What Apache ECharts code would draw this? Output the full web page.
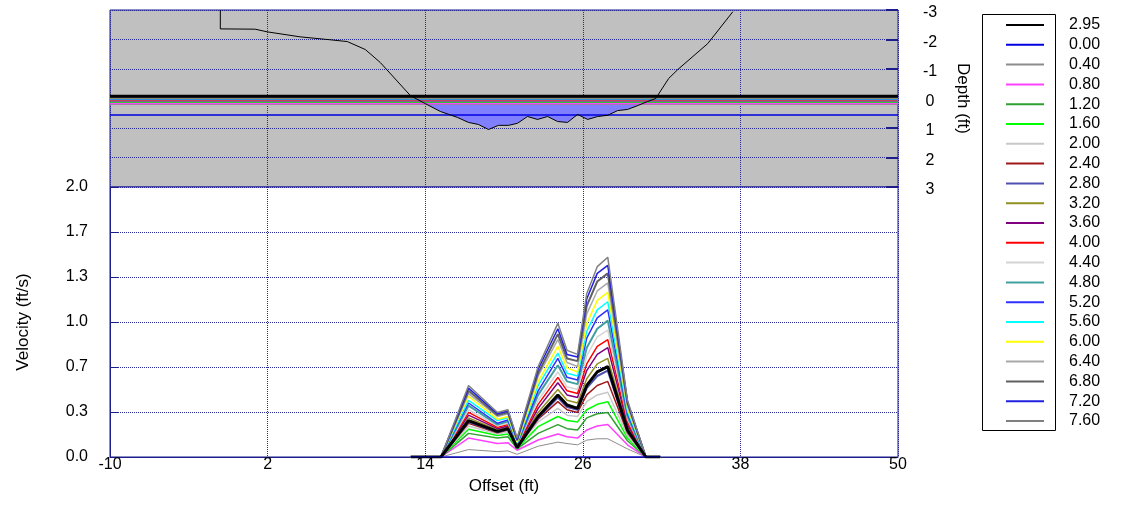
<!DOCTYPE html>
<html><head><meta charset="utf-8">
<script src="https://cdn.jsdelivr.net/npm/echarts@6/dist/echarts.min.js"></script>
<style>html,body{margin:0;padding:0;background:#fff}#c{width:1121px;height:527px}</style>
</head><body><div id="c"></div>
<script>
// ---- data ----
const offsets = [12.9, 15.2, 17.3, 19.5, 20.3, 21.0, 22.6, 24.1, 24.8, 25.6, 26.3, 27.1, 27.9, 29.4, 30.8, 31.9];

const v_2_95 = [0,0,0.27,0.19,0.21,0.07,0.30,0.46,0.385,0.36,0.53,0.63,0.67,0.20,0,0];
const v_0_00 = [0,0,0,0,0,0,0,0,0,0,0,0,0,0,0,0];
const v_0_40 = [0,0,0.055,0.04,0.045,0.02,0.08,0.11,0.10,0.09,0.125,0.135,0.135,0.06,0,0];
const v_0_80 = [0,0,0.14,0.10,0.105,0.05,0.126,0.17,0.15,0.14,0.20,0.23,0.24,0.09,0,0];
const v_1_20 = [0,0,0.175,0.14,0.15,0.06,0.175,0.24,0.21,0.20,0.29,0.32,0.33,0.12,0,0];
const v_1_60 = [0,0,0.205,0.16,0.17,0.065,0.225,0.30,0.27,0.26,0.35,0.39,0.41,0.14,0,0];
const v_2_00 = [0,0,0.23,0.17,0.185,0.07,0.26,0.36,0.31,0.30,0.41,0.46,0.48,0.16,0,0];
const v_2_40 = [0,0,0.25,0.18,0.20,0.07,0.28,0.41,0.35,0.33,0.46,0.53,0.56,0.18,0,0];
const v_2_80 = [0,0,0.26,0.185,0.205,0.07,0.29,0.44,0.37,0.35,0.51,0.60,0.64,0.19,0,0];
const v_3_20 = [0,0,0.29,0.20,0.22,0.075,0.33,0.50,0.42,0.40,0.58,0.69,0.73,0.22,0,0];
const v_3_60 = [0,0,0.31,0.21,0.23,0.08,0.36,0.55,0.46,0.44,0.64,0.76,0.81,0.24,0,0];
const v_4_00 = [0,0,0.33,0.22,0.24,0.085,0.39,0.59,0.49,0.47,0.69,0.82,0.87,0.26,0,0];
const v_4_40 = [0,0,0.35,0.23,0.25,0.09,0.42,0.63,0.52,0.50,0.75,0.89,0.94,0.28,0,0];
const v_4_80 = [0,0,0.38,0.24,0.265,0.095,0.46,0.68,0.56,0.54,0.81,0.95,1.01,0.30,0,0];
const v_5_20 = [0,0,0.40,0.25,0.275,0.10,0.49,0.73,0.59,0.57,0.88,1.03,1.09,0.32,0,0];
const v_5_60 = [0,0,0.42,0.27,0.29,0.105,0.53,0.77,0.62,0.60,0.93,1.09,1.15,0.34,0,0];
const v_6_00 = [0,0,0.45,0.28,0.30,0.11,0.56,0.82,0.66,0.63,0.99,1.16,1.22,0.36,0,0];
const v_6_40 = [0,0,0.47,0.30,0.32,0.12,0.60,0.87,0.70,0.67,1.06,1.23,1.29,0.38,0,0];
const v_6_80 = [0,0,0.49,0.31,0.33,0.125,0.62,0.91,0.73,0.71,1.12,1.30,1.36,0.40,0,0];
const v_7_20 = [0,0,0.51,0.32,0.34,0.13,0.65,0.95,0.76,0.74,1.17,1.36,1.42,0.41,0,0];
const v_7_60 = [0,0,0.53,0.33,0.35,0.14,0.67,0.99,0.79,0.76,1.21,1.41,1.48,0.42,0,0];

const seriesNames = ['2.95','0.00','0.40','0.80','1.20','1.60','2.00','2.40','2.80','3.20','3.60','4.00','4.40','4.80','5.20','5.60','6.00','6.40','6.80','7.20','7.60'];
const seriesValues = [v_2_95,v_0_00,v_0_40,v_0_80,v_1_20,v_1_60,v_2_00,v_2_40,v_2_80,v_3_20,v_3_60,v_4_00,v_4_40,v_4_80,v_5_20,v_5_60,v_6_00,v_6_40,v_6_80,v_7_20,v_7_60];
const seriesColors = ['#000000','#0000e0','#8c8c8c','#ff40ff','#30a030','#00ff00','#c8c8c8','#a01818','#5050b0','#909020','#800080','#ff0000','#d4d4d4','#40a0a0','#3030ff','#00ffff','#ffff00','#a8a8a8','#606060','#2020e0','#808080'];
const seriesWidths = [3,1,1,1.5,1.5,1.5,1.5,1.5,2,1.5,1.5,1.5,1.5,2,1.5,1.5,1.5,1.5,2,1.5,1.5];
// water surface depth for each series (top panel)
const waterDepths = [-0.08,0.56,0.20,0.17,0.12,0.11,0.09,0.08,0.07,0.06,0.05,0.04,0.03,0.02,0.01,0.0,-0.01,-0.02,-0.03,-0.04,-0.05];

// ground profile (top panel)
const profileOffsets = [-1.6,-1.6,1.05,1.97,4.48,6.77,8.07,9.44,10.58,12.87,13.86,15.16,16.45,17.29,18.05,18.82,19.58,20.34,21.03,21.79,22.55,23.32,24.08,24.84,25.6,26.37,27.13,27.89,28.65,29.41,30.18,30.94,31.55,32.54,33.23,35.51,37.42];
const profileDepths = [-3,-2.36,-2.35,-2.26,-2.09,-1.99,-1.93,-1.66,-1.22,-0.10,0.14,0.44,0.64,0.81,0.88,1.05,0.91,0.91,0.84,0.61,0.71,0.61,0.78,0.81,0.54,0.71,0.61,0.57,0.41,0.37,0.24,0.10,0.0,-0.68,-0.98,-1.86,-2.94];
const wetStartOffset = 13.2;

// axis ranges
const offsetMin = -10, offsetMax = 50, offsetStep = 12;
const depthMin = -3, depthMax = 3, depthStep = 1;
const velMin = 0, velMax = 2, velStep = 1/3;

// ---- chart ----
const FONT = 'Liberation Sans, Arial, sans-serif';
const AXC = '#1c1c8c';
const TICK_FS = 16, NAME_FS = 17;
const gridLine = {show:true, lineStyle:{color:'#2a2a9a', type:'dotted', width:1}};

const profileData = profileOffsets.map((o,i)=>[o, profileDepths[i]]);
const wetData = [[wetStartOffset,0]].concat(profileData.slice(10,33));

const series = [];
seriesNames.forEach((n,i)=>{
  series.push({
    name:n, type:'line', xAxisIndex:1, yAxisIndex:1,
    data: offsets.map((o,j)=>[o, seriesValues[i][j]]),
    symbol:'none', silent:true, animation:false,
    lineStyle:{color:seriesColors[i], width:seriesWidths[i]},
    itemStyle:{color:seriesColors[i]},
    z: n==='0.00' ? 6 : (n==='2.95' ? 5 : 3)
  });
});
series.push({
  name:'wet', type:'line', xAxisIndex:0, yAxisIndex:0, data:wetData,
  symbol:'none', lineStyle:{width:0}, areaStyle:{color:'#8080ff', opacity:1}, z:1, animation:false, silent:true
});
seriesNames.forEach((n,i)=>{
  series.push({
    name:n, type:'line', xAxisIndex:0, yAxisIndex:0,
    data:[[offsetMin, waterDepths[i]],[offsetMax, waterDepths[i]]],
    symbol:'none', silent:true, animation:false,
    lineStyle:{color:seriesColors[i], width: n==='0.00'?1.5:seriesWidths[i]},
    z: n==='2.95' ? 4 : 2
  });
});
series.push({
  name:'ground', type:'line', xAxisIndex:0, yAxisIndex:0, data:profileData,
  symbol:'none', lineStyle:{color:'#000', width:1}, z:6, animation:false, silent:true
});

const option = {
  animation:false,
  textStyle:{fontFamily:FONT},
  grid:[
    {left:110, width:788, top:10, height:177, show:true, backgroundColor:'#c0c0c0', borderColor:AXC, borderWidth:1},
    {left:110, width:788, top:187, height:270, show:true, backgroundColor:'#ffffff', borderColor:AXC, borderWidth:1}
  ],
  xAxis:[
    {gridIndex:0, type:'value', min:offsetMin, max:offsetMax, interval:offsetStep,
     axisLine:{show:false, onZero:false}, axisTick:{show:false}, axisLabel:{show:false}, splitLine:gridLine},
    {gridIndex:1, type:'value', min:offsetMin, max:offsetMax, interval:offsetStep,
     name:'Offset (ft)', nameLocation:'middle', nameGap:21,
     nameTextStyle:{fontSize:NAME_FS, color:'#000', fontFamily:FONT},
     axisLine:{show:true, onZero:false, lineStyle:{color:AXC}}, axisTick:{show:false},
     axisLabel:{color:'#000', fontSize:TICK_FS, margin:0, fontFamily:FONT}, splitLine:gridLine}
  ],
  yAxis:[
    {gridIndex:0, type:'value', position:'right', inverse:true, min:depthMin, max:depthMax, interval:depthStep,
     name:'Depth (ft)', nameLocation:'middle', nameRotate:-90, nameGap:56,
     nameTextStyle:{fontSize:NAME_FS, color:'#000', fontFamily:FONT},
     axisLine:{show:false, onZero:false}, axisTick:{show:true, inside:true, length:12, lineStyle:{color:AXC, width:2}},
     axisLabel:{color:'#000', fontSize:TICK_FS, margin:32, align:'center', fontFamily:FONT,
       formatter:v=>'{d|'+v+'}', rich:{d:{padding:[6,0,0,0], fontSize:TICK_FS, color:'#000', fontFamily:FONT}}},
     splitLine:gridLine},
    {gridIndex:1, type:'value', min:velMin, max:velMax, interval:velStep,
     name:'Velocity (ft/s)', nameLocation:'middle', nameGap:78,
     nameTextStyle:{fontSize:NAME_FS, color:'#000', fontFamily:FONT},
     axisLine:{show:true, onZero:false, lineStyle:{color:AXC}}, axisTick:{show:true, inside:true, length:8, lineStyle:{color:AXC}},
     axisLabel:{color:'#000', fontSize:TICK_FS, margin:22, fontFamily:FONT, formatter:v=>Number(v).toFixed(1)}, splitLine:gridLine}
  ],
  legend:{
    data:seriesNames, orient:'vertical', left:1000, top:12,
    itemWidth:38, itemHeight:14, itemGap:3.8, selectedMode:false,
    itemStyle:{opacity:0},
    formatter:n=>'{t|'+n+'}',
    textStyle:{fontSize:TICK_FS, color:'#000', fontFamily:FONT, rich:{t:{padding:[0,0,0,20], fontSize:TICK_FS, lineHeight:14, color:'#000', fontFamily:FONT}}}
  },
  graphic:[
    {type:'rect', left:982, top:14, shape:{width:73, height:416}, style:{fill:'#fff', stroke:'#000', lineWidth:1}, z:0}
  ],
  series:series
};
const chart = echarts.init(document.getElementById('c'), null, {renderer:'canvas'});
chart.setOption(option);
</script>
</body></html>
